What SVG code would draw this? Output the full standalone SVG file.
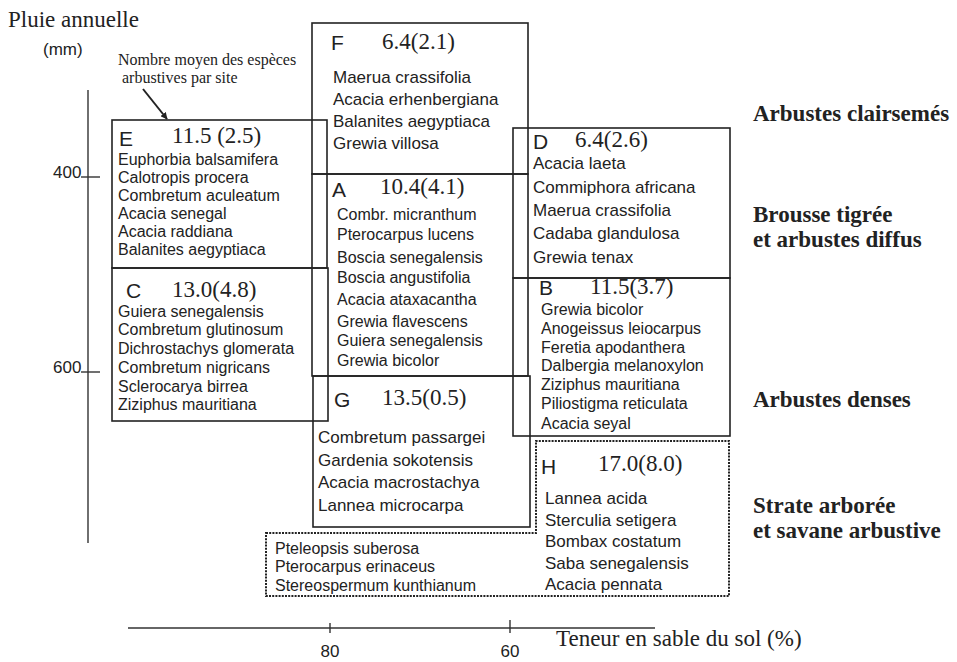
<svg xmlns="http://www.w3.org/2000/svg" width="957" height="662" viewBox="0 0 957 662">
<style>
.bx{fill:none;stroke:#222;stroke-width:1.6}
.dot{fill:none;stroke:#222;stroke-width:2;stroke-dasharray:2 1.2}
.ax{fill:none;stroke:#333;stroke-width:1.4}
.sp{font-family:"Liberation Sans",Arial,sans-serif;font-size:17px;fill:#222}
.ss{font-family:"Liberation Sans",Arial,sans-serif;font-size:16px;fill:#222}
.lt{font-family:"Liberation Sans",Arial,sans-serif;font-size:21px;fill:#222}
.nm{font-family:"Liberation Serif","Times New Roman",serif;font-size:23px;fill:#222}
.sr{font-family:"Liberation Serif","Times New Roman",serif;fill:#222}
.rb{font-family:"Liberation Serif","Times New Roman",serif;font-size:23px;font-weight:bold;fill:#222}
.tk{font-family:"Liberation Sans",Arial,sans-serif;font-size:17px;fill:#222}
</style>
<defs>
<marker id="ah" viewBox="0 0 10 10" refX="9" refY="5" markerWidth="7" markerHeight="7" orient="auto" markerUnits="userSpaceOnUse">
<path d="M0,0 L10,5 L0,10 z" fill="#222"/>
</marker>
</defs>
<rect width="957" height="662" fill="#fff"/>

<g id="axes">
<text class="sr" x="8" y="27" font-size="23">Pluie annuelle</text>
<text class="tk" x="43" y="55">(mm)</text>
<line class="ax" x1="88" y1="90" x2="88" y2="543"/>
<line class="ax" x1="81" y1="177" x2="100" y2="177"/>
<line class="ax" x1="81" y1="372" x2="100" y2="372"/>
<text class="tk" x="53" y="178" font-size="16">400</text>
<text class="tk" x="53" y="373" font-size="16">600</text>
<line class="ax" x1="128" y1="628" x2="655" y2="628"/>
<line class="ax" x1="330" y1="623" x2="330" y2="633"/>
<line class="ax" x1="510" y1="620" x2="510" y2="633"/>
<text class="tk" x="330" y="657" text-anchor="middle">80</text>
<text class="tk" x="510" y="657" text-anchor="middle">60</text>
<text class="sr" x="556" y="646" font-size="23">Teneur en sable du sol (%)</text>
</g>

<g id="note">
<text class="sr" x="118" y="65" font-size="16">Nombre moyen  des espèces</text>
<text class="sr" x="122" y="83" font-size="16">arbustives par site</text>
</g>

<g id="box-F">
<rect class="bx" x="312" y="23" width="216" height="151"/>
<text class="lt" x="331" y="50">F</text>
<text class="nm" x="382" y="49">6.4(2.1)</text>
<text class="sp" x="333" y="83">Maerua crassifolia</text>
<text class="sp" x="333" y="105">Acacia erhenbergiana</text>
<text class="sp" x="333" y="127">Balanites aegyptiaca</text>
<text class="sp" x="333" y="149">Grewia villosa</text>
</g>

<g id="box-A">
<rect class="bx" x="312" y="174" width="216" height="202"/>
<text class="lt" x="332" y="197">A</text>
<text class="nm" x="380" y="194">10.4(4.1)</text>
<text class="ss" x="337" y="220">Combr. micranthum</text>
<text class="ss" x="337" y="240">Pterocarpus lucens</text>
<text class="ss" x="337" y="263">Boscia senegalensis</text>
<text class="ss" x="337" y="283">Boscia angustifolia</text>
<text class="ss" x="337" y="305">Acacia ataxacantha</text>
<text class="ss" x="337" y="327">Grewia flavescens</text>
<text class="ss" x="337" y="346">Guiera senegalensis</text>
<text class="ss" x="337" y="366">Grewia bicolor</text>
</g>

<g id="box-G">
<rect class="bx" x="313" y="376" width="217" height="151"/>
<text class="lt" x="334" y="407">G</text>
<text class="nm" x="382" y="405">13.5(0.5)</text>
<text class="sp" x="318" y="443">Combretum passargei</text>
<text class="sp" x="318" y="466">Gardenia sokotensis</text>
<text class="sp" x="318" y="488">Acacia macrostachya</text>
<text class="sp" x="318" y="511">Lannea microcarpa</text>
</g>

<g id="box-E">
<rect class="bx" x="112" y="120" width="215" height="148"/>
<text class="lt" x="119" y="146">E</text>
<text class="nm" x="172" y="143">11.5 (2.5)</text>
<text class="ss" x="118" y="165">Euphorbia balsamifera</text>
<text class="ss" x="118" y="183">Calotropis procera</text>
<text class="ss" x="118" y="201">Combretum aculeatum</text>
<text class="ss" x="118" y="219">Acacia senegal</text>
<text class="ss" x="118" y="237">Acacia raddiana</text>
<text class="ss" x="118" y="255">Balanites aegyptiaca</text>
</g>

<g id="box-C">
<rect class="bx" x="112" y="268" width="216" height="153"/>
<text class="lt" x="126" y="298">C</text>
<text class="nm" x="172" y="297">13.0(4.8)</text>
<text class="ss" x="118" y="317">Guiera senegalensis</text>
<text class="ss" x="118" y="335">Combretum glutinosum</text>
<text class="ss" x="118" y="354">Dichrostachys glomerata</text>
<text class="ss" x="118" y="373">Combretum nigricans</text>
<text class="ss" x="118" y="392">Sclerocarya birrea</text>
<text class="ss" x="118" y="410">Ziziphus mauritiana</text>
</g>

<g id="box-D">
<rect class="bx" x="513" y="128" width="217" height="150"/>
<text class="lt" x="533" y="149">D</text>
<text class="nm" x="575" y="147">6.4(2.6)</text>
<text class="sp" x="533" y="169">Acacia laeta</text>
<text class="sp" x="533" y="193">Commiphora africana</text>
<text class="sp" x="533" y="216">Maerua crassifolia</text>
<text class="sp" x="533" y="239">Cadaba glandulosa</text>
<text class="sp" x="533" y="263">Grewia tenax</text>
</g>

<g id="box-B">
<rect class="bx" x="513" y="278" width="217" height="158"/>
<text class="lt" x="539" y="295">B</text>
<text class="nm" x="590" y="294">11.5(3.7)</text>
<text class="ss" x="541" y="315">Grewia bicolor</text>
<text class="ss" x="541" y="334">Anogeissus leiocarpus</text>
<text class="ss" x="541" y="353">Feretia apodanthera</text>
<text class="ss" x="541" y="371">Dalbergia melanoxylon</text>
<text class="ss" x="541" y="390">Ziziphus mauritiana</text>
<text class="ss" x="541" y="409">Piliostigma reticulata</text>
<text class="ss" x="541" y="429">Acacia seyal</text>
</g>

<g id="box-H">
<path class="dot" d="M266,533 H536 V441 H729 V596 H266 Z"/>
<text class="lt" x="541" y="474">H</text>
<text class="nm" x="598" y="471">17.0(8.0)</text>
<text class="sp" x="545" y="504">Lannea acida</text>
<text class="sp" x="545" y="526">Sterculia setigera</text>
<text class="sp" x="545" y="547">Bombax costatum</text>
<text class="sp" x="545" y="569">Saba senegalensis</text>
<text class="sp" x="545" y="590">Acacia pennata</text>
<text class="ss" x="275" y="554">Pteleopsis suberosa</text>
<text class="ss" x="275" y="572">Pterocarpus erinaceus</text>
<text class="ss" x="275" y="591">Stereospermum kunthianum</text>
</g>

<g id="zones">
<text class="rb" x="753" y="121">Arbustes clairsemés</text>
<text class="rb" x="753" y="222">Brousse tigrée</text>
<text class="rb" x="753" y="247">et arbustes diffus</text>
<text class="rb" x="753" y="407">Arbustes denses</text>
<text class="rb" x="753" y="513">Strate arborée</text>
<text class="rb" x="753" y="538">et savane arbustive</text>
</g>

<g id="connectors">
<line x1="143" y1="89" x2="167" y2="119" stroke="#222" stroke-width="2" marker-end="url(#ah)"/>
</g>
</svg>
